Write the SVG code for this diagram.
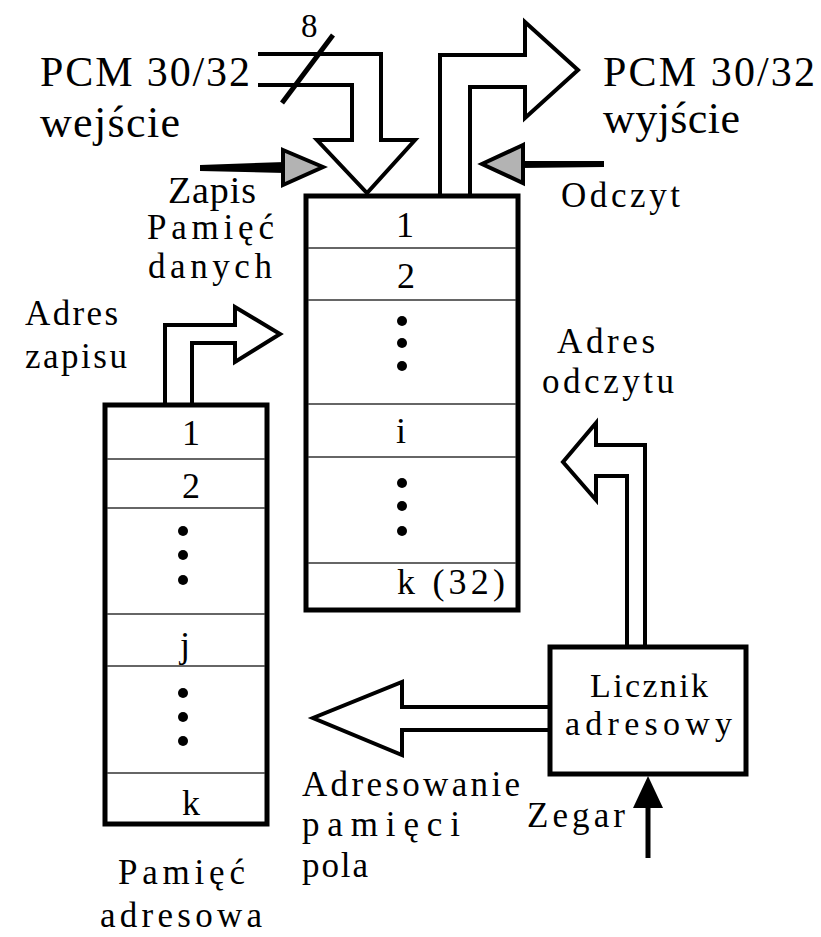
<svg xmlns="http://www.w3.org/2000/svg" width="821" height="937" viewBox="0 0 821 937">
<style>
text{font-family:'Liberation Serif','Times New Roman',serif;fill:#000}
.l{font-size:35px}
.b{font-size:42px}
.w{font-size:44px}
.s{font-size:34px}
.box{fill:#fff;stroke:#000;stroke-width:5}
.row{stroke:#333;stroke-width:1.4}
.arr{fill:#fff;stroke:#000;stroke-width:4;stroke-linejoin:miter}
.gray{fill:#b3b3b3;stroke:#000;stroke-width:4;stroke-linejoin:miter}
.num{font-size:36px;text-anchor:middle}
</style>
<rect width="821" height="937" fill="#fff"/>

<g id="connectors">
  <path class="arr" d="M258,54 L381,54 L381,140 L415,140 L367,193 L317,140 L352,140 L352,85 L258,85"/>
  <line x1="333" y1="35" x2="282" y2="103" stroke="#000" stroke-width="5"/>
  <path class="arr" d="M440,195 L440,55 L525,55 L525,22 L578,70 L525,118 L525,87 L470,87 L470,195"/>
  <polygon points="200,165 285,162 285,173 200,171" fill="#000"/>
  <polygon class="gray" points="283,150 323,167 283,185"/>
  <polygon points="604,161 521,161 521,168 604,167" fill="#000"/>
  <polygon class="gray" points="523,145 482,164 523,183"/>
  <path class="arr" d="M165,405 L165,325 L235,325 L235,307 L280,334 L235,362 L235,343 L192,343 L192,405"/>
  <path class="arr" d="M645,647 L645,445 L596,445 L596,423 L563,462 L596,500 L596,476 L627,476 L627,647"/>
  <path class="arr" d="M550,707 L402,707 L402,682 L313,718 L402,755 L402,730 L550,730"/>
  <line x1="648" y1="804" x2="648" y2="858" stroke="#000" stroke-width="5"/>
  <polygon points="648,776 633,808 663,808" fill="#000"/>
</g>

<g id="data-memory">
  <rect class="box" x="306" y="196" width="212" height="414"/>
  <line class="row" x1="308" y1="248" x2="516" y2="248"/>
  <line class="row" x1="308" y1="300" x2="516" y2="300"/>
  <line class="row" x1="308" y1="404" x2="516" y2="404"/>
  <line class="row" x1="308" y1="457" x2="516" y2="457"/>
  <line class="row" x1="308" y1="563" x2="516" y2="563"/>
  <text class="num" x="405" y="237">1</text>
  <text class="num" x="406" y="288">2</text>
  <circle cx="402" cy="321" r="5"/>
  <circle cx="402" cy="343" r="5"/>
  <circle cx="402" cy="366" r="5"/>
  <text class="num" x="401" y="443">i</text>
  <circle cx="402" cy="483" r="5"/>
  <circle cx="402" cy="506" r="5"/>
  <circle cx="402" cy="531" r="5"/>
  <text style="font-size:36px" x="397" y="594" textLength="108" lengthAdjust="spacing">k (32)</text>
</g>

<g id="address-memory">
  <rect class="box" x="105" y="405" width="162" height="419"/>
  <line class="row" x1="107" y1="459" x2="265" y2="459"/>
  <line class="row" x1="107" y1="508" x2="265" y2="508"/>
  <line class="row" x1="107" y1="614" x2="265" y2="614"/>
  <line class="row" x1="107" y1="666" x2="265" y2="666"/>
  <line class="row" x1="107" y1="773" x2="265" y2="773"/>
  <text class="num" x="191" y="445">1</text>
  <text class="num" x="191" y="498">2</text>
  <circle cx="183" cy="531" r="5"/>
  <circle cx="183" cy="555" r="5"/>
  <circle cx="183" cy="580" r="5"/>
  <text class="num" x="185" y="657">j</text>
  <circle cx="183" cy="693" r="5"/>
  <circle cx="183" cy="717" r="5"/>
  <circle cx="183" cy="741" r="5"/>
  <text class="num" x="191" y="815">k</text>
</g>

<g id="counter">
  <rect class="box" x="550" y="647" width="196" height="127"/>
  <text class="s" x="590" y="697" textLength="118" lengthAdjust="spacing">Licznik</text>
  <text class="s" x="565" y="735" textLength="167" lengthAdjust="spacing">adresowy</text>
</g>

<g id="labels">
  <text style="font-size:33px" x="301" y="37">8</text>
  <text class="b" x="40" y="86" textLength="210" lengthAdjust="spacing">PCM 30/32</text>
  <text class="w" x="40" y="137" textLength="140" lengthAdjust="spacing">wejście</text>
  <text class="b" x="603" y="86" textLength="212" lengthAdjust="spacing">PCM 30/32</text>
  <text class="w" x="603" y="133" textLength="137" lengthAdjust="spacing">wyjście</text>
  <text style="font-size:38px" x="168" y="203" textLength="88" lengthAdjust="spacing">Zapis</text>
  <text class="l" x="147" y="239" textLength="127" lengthAdjust="spacing">Pamięć</text>
  <text class="l" x="148" y="278" textLength="124" lengthAdjust="spacing">danych</text>
  <text class="l" x="561" y="207" textLength="119" lengthAdjust="spacing">Odczyt</text>
  <text class="l" x="25" y="325" textLength="93" lengthAdjust="spacing">Adres</text>
  <text class="l" x="25" y="368" textLength="102" lengthAdjust="spacing">zapisu</text>
  <text class="l" x="557" y="353" textLength="98" lengthAdjust="spacing">Adres</text>
  <text class="l" x="542" y="393" textLength="132" lengthAdjust="spacing">odczytu</text>
  <text class="l" x="302" y="796" textLength="218" lengthAdjust="spacing">Adresowanie</text>
  <text class="l" x="302" y="836" textLength="158" lengthAdjust="spacing">pamięci</text>
  <text class="l" x="302" y="877" textLength="66" lengthAdjust="spacing">pola</text>
  <text class="l" x="527" y="827" textLength="98" lengthAdjust="spacing">Zegar</text>
  <text class="l" x="118" y="884" textLength="127" lengthAdjust="spacing">Pamięć</text>
  <text class="l" x="100" y="927" textLength="162" lengthAdjust="spacing">adresowa</text>
</g>
</svg>
